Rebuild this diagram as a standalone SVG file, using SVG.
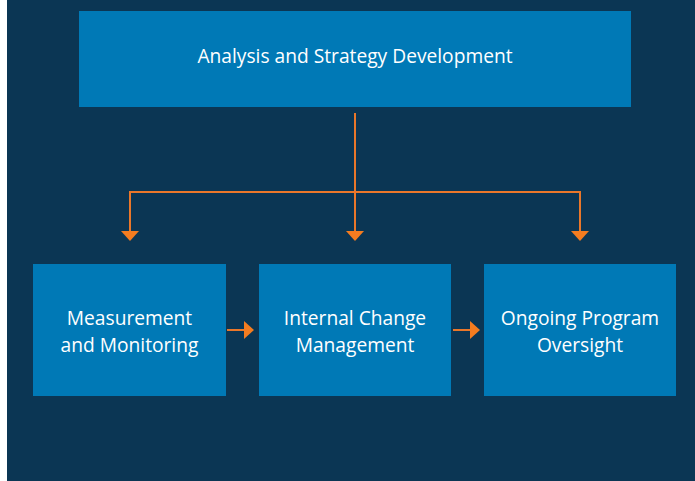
<svg xmlns="http://www.w3.org/2000/svg" width="695" height="481" viewBox="0 0 695 481">
<style>
.box{fill:#0079b6}
.lbl{fill:#ffffff;font-family:"Open Sans","Noto Sans",sans-serif;font-size:19.2px;text-anchor:middle}
.ln{stroke:#ea772a;stroke-width:2;fill:none}
.hd{fill:#f47c20}
</style>
<rect x="0" y="0" width="695" height="481" fill="#ffffff"/>
<rect x="7" y="0" width="688" height="481" fill="#0b3654"/>
<g id="connectors">
<path class="ln" d="M355 113 V232"/>
<path class="ln" d="M130 232 V192 H580 V232"/>
<polygon class="hd" points="121,231 139,231 130,241"/>
<polygon class="hd" points="346,231 364,231 355,241"/>
<polygon class="hd" points="571,231 589,231 580,241"/>
<path class="ln" d="M227 330 H245"/>
<polygon class="hd" points="244,321 254,330 244,339"/>
<path class="ln" d="M453 330 H471"/>
<polygon class="hd" points="470,321 480,330 470,339"/>
</g>
<g id="analysis">
<rect class="box" x="79" y="11" width="552" height="96"/>
<text class="lbl" x="355" y="63">Analysis and Strategy Development</text>
</g>
<g id="measurement">
<rect class="box" x="33" y="264" width="193" height="132"/>
<text class="lbl" x="129.5" y="325">Measurement</text>
<text class="lbl" x="129.5" y="352">and Monitoring</text>
</g>
<g id="internal">
<rect class="box" x="259" y="264" width="192" height="132"/>
<text class="lbl" x="355" y="325">Internal Change</text>
<text class="lbl" x="355" y="352">Management</text>
</g>
<g id="ongoing">
<rect class="box" x="484" y="264" width="192" height="132"/>
<text class="lbl" x="580" y="325">Ongoing Program</text>
<text class="lbl" x="580" y="352">Oversight</text>
</g>
</svg>
